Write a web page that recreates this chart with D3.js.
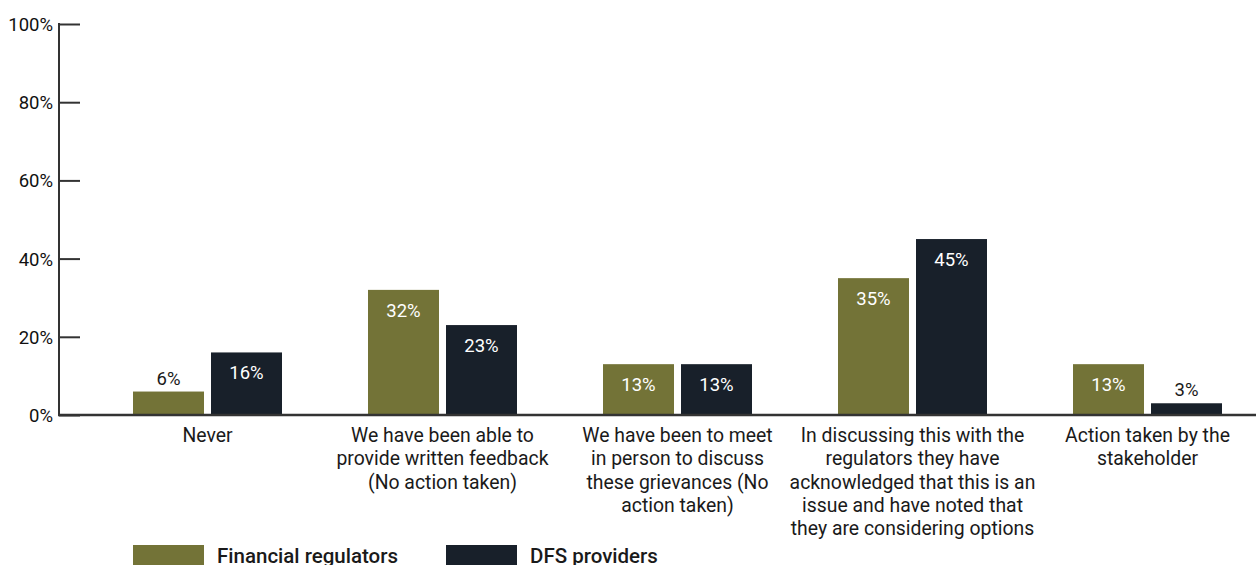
<!DOCTYPE html>
<html><head><meta charset="utf-8">
<script src="https://cdn.jsdelivr.net/npm/d3@7"></script>
<style>body{margin:0;background:#fff}svg{display:block;font-family:Roboto,"Noto Sans",sans-serif}</style>
</head><body><svg id="c" width="1256" height="565"></svg>
<script>
const categories = [
  ["Never"],
  ["We have been able to","provide written feedback","(No action taken)"],
  ["We have been to meet","in person to discuss","these grievances (No","action taken)"],
  ["In discussing this with the","regulators they have","acknowledged that this is an","issue and have noted that","they are considering options"],
  ["Action taken by the","stakeholder"]
];
const seriesNames = ["Financial regulators","DFS providers"];
const financialRegulators = [6,32,13,35,13];
const dfsProviders = [16,23,13,45,3];
const yTicks = [0,20,40,60,80,100];
const colors = ["#737337","#18202a"];

const svg = d3.select("#c");
const y = d3.scaleLinear().domain([0,100]).range([415,24]);
const x0 = d3.scaleBand().domain(d3.range(categories.length)).range([90,1265]);
const x1 = d3.scaleBand().domain([0,1]).range([43,192]).paddingInner(7/78);

const data = categories.map((c,i)=>({i, vals:[financialRegulators[i], dfsProviders[i]]}));

const g = svg.append("g");
data.forEach(d=>{
  d.vals.forEach((v,s)=>{
    const bx = x0(d.i)+x1(s);
    g.append("rect").attr("x",bx).attr("y",y(v)).attr("width",x1.bandwidth())
      .attr("height",y(0)-y(v)).attr("fill",colors[s]);
    const inside = v>=10;
    g.append("text").attr("x",bx+x1.bandwidth()/2)
      .attr("y", inside ? y(v)+27 : y(v)-7)
      .attr("text-anchor","middle").attr("font-size",18.5).attr("font-weight",400)
      .attr("fill", inside ? "#fff" : "#1a1a1a").text(v+"%");
  });
});

// y axis
const ya = svg.append("g").attr("transform","translate(59,0)")
  .call(d3.axisRight(y).tickValues(yTicks).tickFormat(d=>d+"%").tickSize(21));
ya.select(".domain").remove();
ya.selectAll(".tick line").attr("stroke","#333").attr("stroke-width",2);
ya.selectAll(".tick text").attr("x",-6).attr("text-anchor","end").attr("dy","0.35em")
  .attr("font-size",18.5).attr("font-family","Roboto").attr("fill","#111");
svg.append("line").attr("x1",59).attr("x2",59).attr("y1",y(100)-1).attr("y2",y(0)+1)
  .attr("stroke","#333").attr("stroke-width",2);
svg.append("line").attr("x1",58).attr("x2",1256).attr("y1",y(0)).attr("y2",y(0))
  .attr("stroke","#333").attr("stroke-width",2.5);

// category labels
categories.forEach((lines,i)=>{
  const t = svg.append("text").attr("text-anchor","middle").attr("font-size",19.4).attr("fill","#1a1a1a");
  lines.forEach((ln,k)=>{
    t.append("tspan").attr("x",x0(i)+x0.bandwidth()/2).attr("y",442+k*23.3).text(ln);
  });
});

// legend
seriesNames.forEach((n,s)=>{
  const lx = x0(s)+x1(s);
  svg.append("rect").attr("x",lx).attr("y",545).attr("width",x1.bandwidth()).attr("height",22).attr("fill",colors[s]);
  svg.append("text").attr("x",lx+x1.bandwidth()+13).attr("y",563).attr("font-size",20.5).attr("font-weight",500)
    .attr("fill","#1a1a1a").text(n);
});
</script></body></html>
